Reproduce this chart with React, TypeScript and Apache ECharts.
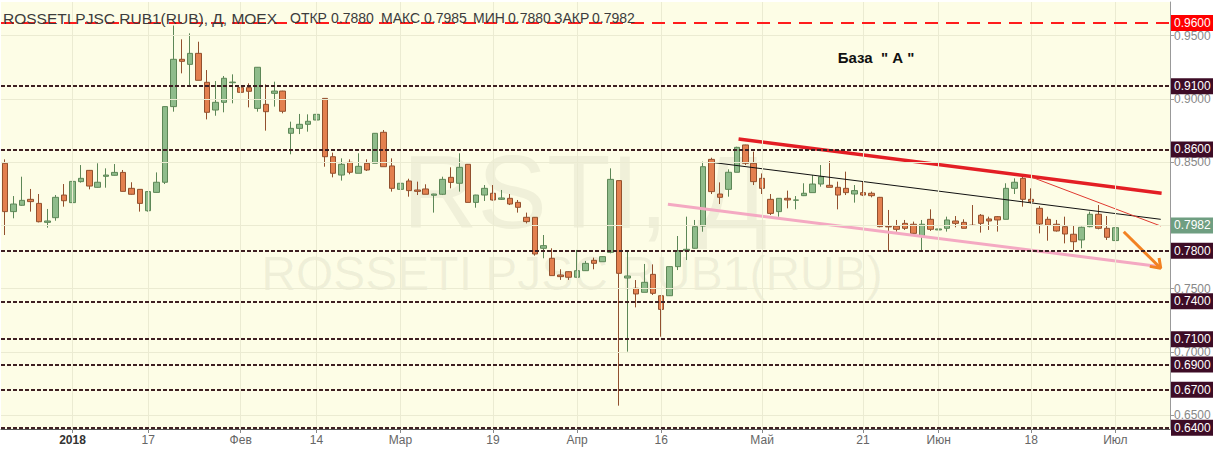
import React, { useEffect, useRef } from "react";
import * as echarts from "echarts";

// ---- data ----
const opens = [
  0.8491, 0.8109, 0.8159, 0.8206, 0.8174, 0.8024, 0.8061, 0.8240, 0.8180, 0.8346,
  0.8435, 0.8301, 0.8388, 0.8396, 0.8419, 0.8293, 0.8285, 0.8116, 0.8261, 0.8341,
  0.8939, 0.9313, 0.9273, 0.9360, 0.9131, 0.8912, 0.8973, 0.9128, 0.9089, 0.9089,
  0.8925, 0.8957, 0.9044, 0.9062, 0.8728, 0.8767, 0.8799, 0.8833, 0.9004, 0.8543,
  0.8398, 0.8499, 0.8412, 0.8491, 0.8491, 0.8736, 0.8470, 0.8285, 0.8351, 0.8280,
  0.8288, 0.8238, 0.8246, 0.8380, 0.8333, 0.8483, 0.8182, 0.8240, 0.8254, 0.8206,
  0.8214, 0.8182, 0.8064, 0.8064, 0.7819, 0.7740, 0.7608, 0.7634, 0.7590, 0.7642,
  0.7724, 0.7713, 0.7787, 0.8354, 0.7584, 0.7503, 0.7471, 0.7613, 0.7444, 0.7444,
  0.7674, 0.7800, 0.7819, 0.7995, 0.8522, 0.8248, 0.8285, 0.8420, 0.8636, 0.8491,
  0.8372, 0.8206, 0.8109, 0.8214, 0.8199, 0.8235, 0.8259, 0.8327, 0.8317, 0.8301,
  0.8293, 0.8248, 0.8259, 0.8254, 0.8222, 0.7992, 0.7995, 0.8016, 0.8009, 0.7919,
  0.8048, 0.7964, 0.7977, 0.8035, 0.8024, 0.8001, 0.8080, 0.8051, 0.8069, 0.8048,
  0.8293, 0.8372, 0.8206, 0.8135, 0.8048, 0.8009, 0.7990, 0.7930, 0.7885, 0.7990,
  0.8088, 0.7977, 0.7880,
];
const closes = [
  0.8109, 0.8169, 0.8198, 0.8188, 0.8029, 0.8035, 0.8222, 0.8195, 0.8348, 0.8372,
  0.8311, 0.8341, 0.8398, 0.8419, 0.8269, 0.8246, 0.8174, 0.8267, 0.8341, 0.8939,
  0.9313, 0.9297, 0.9360, 0.9147, 0.8894, 0.8973, 0.9163, 0.9133, 0.9052, 0.9060,
  0.9250, 0.8899, 0.9062, 0.8902, 0.8767, 0.8799, 0.8823, 0.8878, 0.8543, 0.8412,
  0.8483, 0.8420, 0.8467, 0.8438, 0.8728, 0.8464, 0.8293, 0.8333, 0.8275, 0.8269,
  0.8246, 0.8248, 0.8364, 0.8340, 0.8459, 0.8182, 0.8240, 0.8293, 0.8201, 0.8217,
  0.8169, 0.8143, 0.8030, 0.7774, 0.7840, 0.7603, 0.7595, 0.7590, 0.7642, 0.7700,
  0.7700, 0.7753, 0.8364, 0.7621, 0.7600, 0.7458, 0.7550, 0.7463, 0.7336, 0.7674,
  0.7800, 0.7811, 0.7990, 0.8464, 0.8267, 0.8222, 0.8420, 0.8617, 0.8491, 0.8346,
  0.8293, 0.8095, 0.8214, 0.8201, 0.8201, 0.8254, 0.8327, 0.8385, 0.8301, 0.8240,
  0.8259, 0.8275, 0.8240, 0.8235, 0.7990, 0.7988, 0.7969, 0.7977, 0.7937, 0.8009,
  0.7969, 0.7972, 0.8043, 0.8016, 0.7977, 0.8000, 0.8016, 0.8035, 0.8043, 0.8293,
  0.8341, 0.8206, 0.8188, 0.8011, 0.8001, 0.7956, 0.7932, 0.7871, 0.7985, 0.8088,
  0.7977, 0.7906, 0.7982,
];
const lows = [
  0.7924, 0.8056, 0.8155, 0.8109, 0.8024, 0.7982, 0.8037, 0.8148, 0.8166, 0.8338,
  0.8285, 0.8298, 0.8298, 0.8394, 0.8267, 0.8243, 0.8109, 0.8109, 0.8259, 0.8327,
  0.8899, 0.9202, 0.9097, 0.9147, 0.8838, 0.8867, 0.8894, 0.8965, 0.9044, 0.8933,
  0.8899, 0.8749, 0.8939, 0.8886, 0.8562, 0.8722, 0.8741, 0.8780, 0.8464, 0.8380,
  0.8354, 0.8404, 0.8412, 0.8430, 0.8491, 0.8464, 0.8267, 0.8214, 0.8227, 0.8240,
  0.8246, 0.8101, 0.8240, 0.8293, 0.8267, 0.8182, 0.8140, 0.8193, 0.8196, 0.8201,
  0.8161, 0.8101, 0.8016, 0.7761, 0.7740, 0.7603, 0.7569, 0.7569, 0.7590, 0.7640,
  0.7653, 0.7713, 0.7779, 0.6575, 0.7002, 0.7352, 0.7471, 0.7450, 0.7120, 0.7442,
  0.7647, 0.7726, 0.7816, 0.7950, 0.8248, 0.8169, 0.8227, 0.8420, 0.8477, 0.8319,
  0.8248, 0.8082, 0.8069, 0.8135, 0.8127, 0.8232, 0.8259, 0.8306, 0.8301, 0.8127,
  0.8240, 0.8180, 0.8232, 0.8222, 0.7985, 0.7792, 0.7951, 0.7964, 0.7924, 0.7800,
  0.7956, 0.7916, 0.7951, 0.7985, 0.7977, 0.7995, 0.7943, 0.7964, 0.7951, 0.8048,
  0.8248, 0.8148, 0.8174, 0.7937, 0.7879, 0.7951, 0.7858, 0.7806, 0.7819, 0.7985,
  0.7969, 0.7885, 0.7880,
];
const highs = [
  0.8522, 0.8232, 0.8385, 0.8288, 0.8248, 0.8130, 0.8240, 0.8327, 0.8351, 0.8477,
  0.8438, 0.8491, 0.8451, 0.8485, 0.8438, 0.8341, 0.8287, 0.8269, 0.8419, 0.8941,
  0.9580, 0.9471, 0.9518, 0.9452, 0.9228, 0.9141, 0.9181, 0.9194, 0.9373, 0.9123,
  0.9252, 0.9115, 0.9136, 0.9064, 0.8820, 0.8881, 0.8878, 0.9018, 0.9006, 0.8575,
  0.8530, 0.8522, 0.8570, 0.8522, 0.8730, 0.8754, 0.8530, 0.8438, 0.8369, 0.8346,
  0.8325, 0.8250, 0.8385, 0.8459, 0.8570, 0.8485, 0.8242, 0.8319, 0.8319, 0.8280,
  0.8248, 0.8201, 0.8101, 0.8066, 0.7924, 0.7819, 0.7653, 0.7637, 0.7806, 0.7719,
  0.7745, 0.7756, 0.8451, 0.8354, 0.7792, 0.7568, 0.7695, 0.7692, 0.7447, 0.7676,
  0.7916, 0.8069, 0.8043, 0.8504, 0.8535, 0.8340, 0.8443, 0.8622, 0.8638, 0.8583,
  0.8411, 0.8248, 0.8216, 0.8275, 0.8232, 0.8333, 0.8398, 0.8477, 0.8509, 0.8346,
  0.8425, 0.8319, 0.8346, 0.8267, 0.8225, 0.8122, 0.8043, 0.8043, 0.8030, 0.8043,
  0.8127, 0.8016, 0.8069, 0.8074, 0.8048, 0.8161, 0.8090, 0.8069, 0.8074, 0.8333,
  0.8372, 0.8398, 0.8293, 0.8153, 0.8069, 0.8043, 0.8069, 0.7995, 0.7990, 0.8109,
  0.8161, 0.8074, 0.7985,
];

const slotCount = 139;
const categories = Array.from({ length: slotCount }, (_, i) => String(i));
const tickLabels: Record<number, string> = {
  8: "2018", 17: "17", 28: "Фев", 37: "14", 47: "Мар", 58: "19", 68: "Апр",
  78: "16", 90: "Май", 102: "21", 111: "Июн", 122: "18", 132: "Июл",
};
const gridValues = [0.65, 0.7, 0.75, 0.8, 0.85, 0.9, 0.95];
const hiddenLabelValue = 0.8; // covered by the last-price box in the reference
const redLevel = 0.96;
const levelValues = [0.91, 0.86, 0.78, 0.74, 0.71, 0.69, 0.67, 0.64];

// trend lines: [slot index, price]
const resistanceLine = [[87.2, 0.8683], [137.5, 0.8254]];
const midLine = [[84.3, 0.8496], [137.4, 0.8048]];
const steepLine = [[121.9, 0.8385], [137.4, 0.7995]];
const supportLine = [[78.8, 0.8167], [137.4, 0.7674]];
const arrowShaft = [[133.0, 0.795], [137.4, 0.7661]];
const arrowHead = [[136.1, 0.7676], [137.4, 0.7661], [137.2, 0.7742]];

const titleText = "ROSSETI PJSC RUB1(RUB), Д, MOEX";
const noteText = 'База  " А "';

export default function App() {
  const ref = useRef<HTMLDivElement>(null);
  useEffect(() => {
    document.body.style.margin = "0";
    const chart = echarts.init(ref.current!, undefined, { renderer: "svg" });
    const n = closes.length;
    const last = { o: opens[n - 1], h: highs[n - 1], l: lows[n - 1], c: closes[n - 1] };
    const candleData = opens.map((o, i) => [o, closes[i], lows[i], highs[i]]);
    const tickIndices = Object.keys(tickLabels).map(Number);
    const hasLabel = (i: number) => tickLabels[i] !== undefined;
    const font = '"Liberation Sans", Arial, sans-serif';

    const boxLabel = (bg: string, text: string) => ({
      show: true,
      position: "end",
      distance: 1,
      formatter: text,
      backgroundColor: bg,
      color: "#fff",
      fontSize: 12,
      fontFamily: font,
      padding: [2, 3, 2, 3],
    });

    const lineSeries = (data: number[][], color: string, width: number) => ({
      type: "line",
      xAxisIndex: 1,
      yAxisIndex: 0,
      data,
      symbol: "none",
      silent: true,
      z: 4,
      lineStyle: { color, width },
    });

    const headerItems = [
      { text: titleText, x: 3, size: 15.5 },
      { text: "ОТКР", x: 290, size: 14 }, { text: last.o.toFixed(4), x: 331, size: 14 },
      { text: "МАКС", x: 381, size: 14 }, { text: last.h.toFixed(4), x: 424, size: 14 },
      { text: "МИН", x: 473, size: 14 }, { text: last.l.toFixed(4), x: 508, size: 14 },
      { text: "ЗАКР", x: 554, size: 14 }, { text: last.c.toFixed(4), x: 592, size: 14 },
    ];

    chart.setOption({
      animation: false,
      backgroundColor: "#ffffff",
      grid: {
        left: 1, top: 2, width: 1169, height: 427,
        outerBoundsMode: "none",
        containLabel: false,
        show: true, backgroundColor: "#fdfde6", borderWidth: 0,
      },
      xAxis: [
        {
          type: "category",
          data: categories,
          boundaryGap: true,
          axisLine: { show: true, onZero: false, lineStyle: { color: "#555", width: 1 } },
          axisTick: {
            show: true, alignWithLabel: true, length: 4,
            interval: (i: number) => hasLabel(i),
            lineStyle: { color: "#888" },
          },
          axisLabel: {
            interval: (i: number) => hasLabel(i),
            formatter: (v: string) => {
              const t = tickLabels[Number(v)] ?? "";
              return t === "2018" ? "{b|2018}" : t;
            },
            color: "#666",
            fontSize: 12,
            fontFamily: font,
            margin: 5,
            rich: { b: { fontWeight: "bold", color: "#333", fontSize: 12, fontFamily: font } },
          },
          splitLine: { show: false },
        },
        {
          type: "value", gridIndex: 0, min: -0.5, max: slotCount - 0.5, show: false,
          axisLine: { show: false, onZero: false },
        },
      ],
      yAxis: {
        type: "value",
        position: "right",
        min: 0.63905,
        max: 0.9766,
        splitNumber: 6,
        axisLine: { show: true, onZero: false, lineStyle: { color: "#999" } },
        axisTick: { show: true, length: 4, lineStyle: { color: "#999" } },
        axisLabel: {
          showMinLabel: false,
          showMaxLabel: false,
          formatter: (v: number) => {
            const onGrid = gridValues.some((g) => Math.abs(g - v) < 1e-6);
            return onGrid && Math.abs(v - hiddenLabelValue) > 1e-6 ? v.toFixed(4) : "";
          },
          color: "#888",
          fontSize: 12,
          fontFamily: font,
          margin: 4,
        },
        splitLine: { show: false },
      },
      graphic: [
        {
          type: "text", x: 585, y: 192, z: 1, silent: true,
          style: {
            text: "RSTI, Д", font: `104px ${font}`, fill: "rgba(110,110,90,0.09)",
            textAlign: "center", textVerticalAlign: "middle",
          },
        },
        {
          type: "text", x: 572, y: 273, z: 1, silent: true,
          style: {
            text: "ROSSETI PJSC RUB1(RUB)", font: `48px ${font}`, fill: "rgba(110,110,90,0.09)",
            textAlign: "center", textVerticalAlign: "middle",
          },
        },
        ...headerItems.map((h) => ({
          type: "text", x: h.x, y: 18, z: 10, silent: true,
          style: { text: h.text, font: `${h.size}px ${font}`, fill: "#3c3c3c", textVerticalAlign: "middle" },
        })),
        {
          type: "text", x: 876, y: 57, z: 10, silent: true,
          style: {
            text: noteText, font: `bold 15px ${font}`, fill: "#111",
            textAlign: "center", textVerticalAlign: "middle",
          },
        },
      ],
      series: [
        {
          // grid lines, behind the candles
          type: "line",
          xAxisIndex: 1,
          yAxisIndex: 0,
          data: [],
          z: 1,
          silent: true,
          markLine: {
            symbol: "none",
            silent: true,
            animation: false,
            label: { show: false },
            lineStyle: { color: "#ebebd2", type: "solid", width: 1 },
            data: [
              ...gridValues.map((v) => ({ yAxis: v })),
              ...tickIndices.map((i) => ({ xAxis: i })),
            ],
          },
        },
        {
          type: "candlestick",
          data: candleData,
          barWidth: 6,
          z: 3,
          itemStyle: {
            color: "#8fbc8b",
            color0: "#e3804f",
            borderColor: "#5d8757",
            borderColor0: "#92502e",
            borderWidth: 1,
          },
          markLine: {
            symbol: "none",
            silent: true,
            animation: false,
            data: [
              {
                yAxis: redLevel,
                lineStyle: { color: "#ff1c1c", type: [13, 8], width: 2 },
                label: boxLabel("#ff0000", redLevel.toFixed(4)),
              },
              ...levelValues.map((v) => ({
                yAxis: v,
                lineStyle: { color: "#3e1f22", type: [4, 2], width: 2 },
                label: boxLabel("#3d0c26", v.toFixed(4)),
              })),
              {
                yAxis: last.c,
                lineStyle: { color: "rgba(0,0,0,0)", width: 1 },
                label: boxLabel("#6f9e81", last.c.toFixed(4)),
              },
            ],
          },
        },
        lineSeries(resistanceLine, "#e31e24", 3.5),
        lineSeries(midLine, "#111111", 1),
        lineSeries(steepLine, "#e03a30", 1),
        lineSeries(supportLine, "#f4a9c2", 3),
        lineSeries(arrowShaft, "#f28222", 3),
        lineSeries(arrowHead, "#f28222", 3),
      ],
    });
    return () => chart.dispose();
  }, []);
  return <div ref={ref} style={{ width: 1213, height: 449 }} />;
}
